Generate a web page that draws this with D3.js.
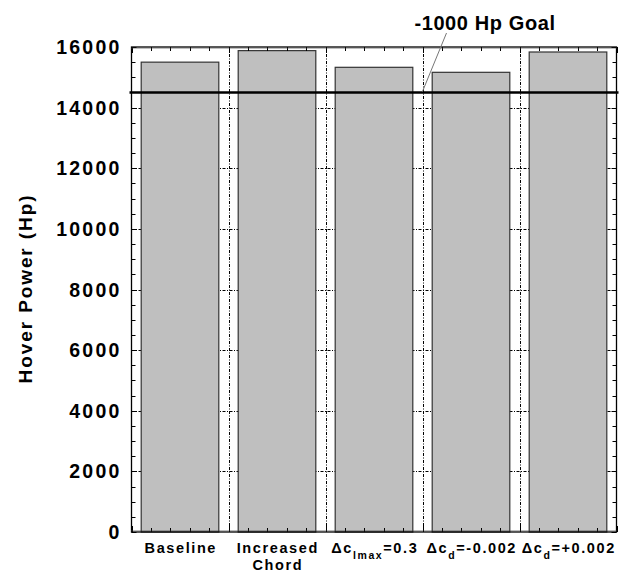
<!DOCTYPE html>
<html>
<head>
<meta charset="utf-8">
<script src="https://cdn.jsdelivr.net/npm/d3@7"></script>
<style>
  html, body { margin: 0; padding: 0; background: #fff; }
  svg { display: block; font-family: "Liberation Sans", Arial, Helvetica, sans-serif; font-weight: bold; }
</style>
</head>
<body>
<svg id="chart" width="629" height="582"></svg>
<script>
// ---- data ----
const categories = ["Baseline", "Increased Chord", "dclmax", "dcdminus", "dcdplus"];
// label pieces: [text, isSubscript]
const categoryLabels = [
  [[["Baseline", false]]],
  [[["Increased", false]], [["Chord", false]]],
  [[["\u0394c", false], ["lmax", true], ["=0.3", false]]],
  [[["\u0394c", false], ["d", true], ["=-0.002", false]]],
  [[["\u0394c", false], ["d", true], ["=+0.002", false]]]
];
const hoverPower = [15500, 15880, 15330, 15165, 15835];
const goalValue = 14500;
const goalLabel = "-1000 Hp Goal";
const yTicks = [0, 2000, 4000, 6000, 8000, 10000, 12000, 14000, 16000];
const yLabel = "Hover Power (Hp)";

(function () {
// ---- layout ----
const svg = d3.select("#chart");
const pL = 131.5, pR = 616.5, pT = 47, pB = 532;

const x = d3.scaleBand().domain(categories).range([pL, pR]).paddingInner(0.2).paddingOuter(0.1);
const y = d3.scaleLinear().domain([0, 16000]).range([pB, pT]);
const step = x.step();
const boundaries = d3.range(1, categories.length).map(i => pL + i * step);

// grid lines (dash-dot)
const grid = svg.append("g").attr("stroke", "#000").attr("stroke-width", 1).attr("stroke-dasharray", "3,1.5,1,1.5");
grid.selectAll("line.h").data(yTicks.filter(v => v > 0 && v < 16000)).join("line")
  .attr("class", "h")
  .attr("x1", pL).attr("x2", pR).attr("y1", d => Math.round(y(d)) + 0.5).attr("y2", d => Math.round(y(d)) + 0.5);
grid.selectAll("line.v").data(boundaries).join("line")
  .attr("class", "v")
  .attr("x1", d => Math.round(d) + 0.5).attr("x2", d => Math.round(d) + 0.5).attr("y1", pT).attr("y2", pB);

// bars
svg.append("g").selectAll("rect").data(categories).join("rect")
  .attr("x", d => x(d))
  .attr("y", (d, i) => y(hoverPower[i]))
  .attr("width", x.bandwidth())
  .attr("height", (d, i) => pB - y(hoverPower[i]))
  .attr("fill", "#bfbfbf")
  .attr("stroke", "#333")
  .attr("stroke-width", 1.2);

// ticks
const tk = svg.append("g").attr("stroke", "#000").attr("stroke-width", 1);
const yMinor = d3.range(0, 16001, 500);
yMinor.forEach(v => {
  const len = v % 2000 === 0 ? 5 : 4;
  const yy = Math.round(y(v)) + 0.5;
  tk.append("line").attr("x1", pL).attr("x2", pL + len).attr("y1", yy).attr("y2", yy);
  tk.append("line").attr("x1", pR).attr("x2", pR - len).attr("y1", yy).attr("y2", yy);
});
const xMinor = d3.range(0, categories.length * 5 + 1).map(k => pL + k * step / 5);
xMinor.forEach((xx, k) => {
  const len = k % 5 === 0 ? 6 : 4;
  const px = Math.round(xx) + 0.5;
  tk.append("line").attr("x1", px).attr("x2", px).attr("y1", pT).attr("y2", pT + len);
  tk.append("line").attr("x1", px).attr("x2", px).attr("y1", pB).attr("y2", pB - len);
});

// frame
svg.append("rect").attr("x", pL).attr("y", pT).attr("width", pR - pL).attr("height", pB - pT)
  .attr("fill", "none").attr("stroke", "#000").attr("stroke-width", 1.3);
// dotted inner edge on top and bottom
svg.append("line").attr("x1", pL).attr("x2", pR).attr("y1", pT + 1.2).attr("y2", pT + 1.2)
  .attr("stroke", "#444").attr("stroke-width", 1).attr("stroke-dasharray", "1,1");
svg.append("line").attr("x1", pL).attr("x2", pR).attr("y1", pB - 1.2).attr("y2", pB - 1.2)
  .attr("stroke", "#444").attr("stroke-width", 1).attr("stroke-dasharray", "1,1");

// goal line
svg.append("line").attr("x1", pL - 2).attr("x2", pR + 2)
  .attr("y1", y(goalValue)).attr("y2", y(goalValue))
  .attr("stroke", "#000").attr("stroke-width", 2.6);

// goal annotation
svg.append("line").attr("x1", 446.5).attr("y1", 33).attr("x2", 422.5).attr("y2", y(goalValue) - 1)
  .attr("stroke", "#777").attr("stroke-width", 1);
svg.append("text").attr("x", 485).attr("y", 30).attr("text-anchor", "middle")
  .attr("font-size", 20).attr("letter-spacing", 0.6).text(goalLabel);

// y tick labels
svg.append("g").selectAll("text").data(yTicks).join("text")
  .attr("x", 121.5).attr("y", d => y(d) + 7)
  .attr("text-anchor", "end").attr("font-size", 19.5).attr("letter-spacing", 2.2)
  .text(d => d);

// y axis title
svg.append("text")
  .attr("transform", `translate(32, ${(pT + pB) / 2 - 1}) rotate(-90)`)
  .attr("text-anchor", "middle").attr("font-size", 19).attr("letter-spacing", 1.9)
  .text(yLabel);

// x labels
categories.forEach((c, i) => {
  const cx = x(c) + x.bandwidth() / 2;
  const lines = categoryLabels[i];
  lines.forEach((parts, li) => {
    const t = svg.append("text").attr("x", cx + 0.8).attr("y", 553 + li * 17)
      .attr("text-anchor", "middle").attr("font-size", 14.5).attr("letter-spacing", 1.6);
    parts.forEach(([txt, sub]) => {
      const ts = t.append("tspan").text(txt);
      if (sub) ts.attr("font-size", 10.5).attr("dy", 6).attr("letter-spacing", 1.6);
      else if (t.selectAll("tspan").size() > 1) ts.attr("dy", -6);
    });
  });
});
})();
</script>
</body>
</html>
